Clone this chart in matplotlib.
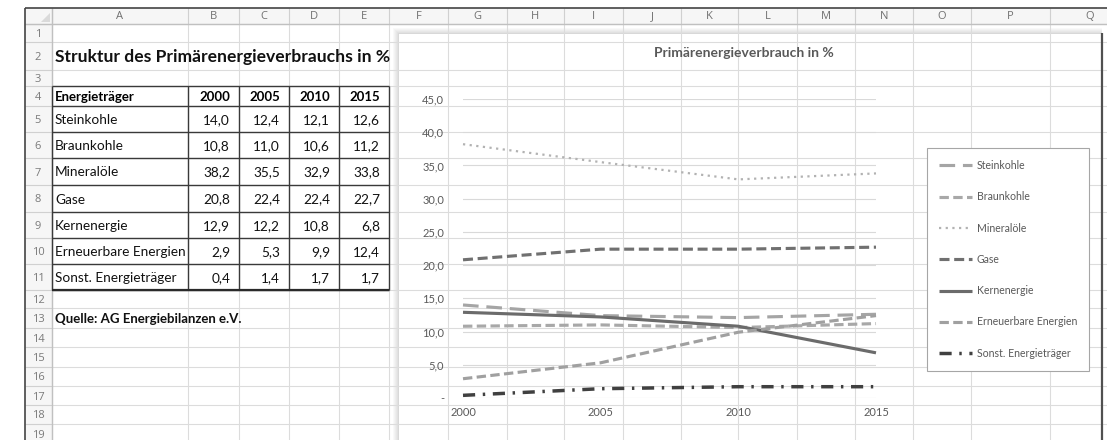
import matplotlib
matplotlib.use("Agg")
import matplotlib.pyplot as plt
from matplotlib.patches import Rectangle, Polygon

plt.rcParams['font.family'] = ['Lato', 'DejaVu Sans']

# Primärenergieverbrauch nach Energieträgern (Anteile in %)
years = [2000, 2005, 2010, 2015]
carriers = ['Steinkohle', 'Braunkohle', 'Mineralöle', 'Gase', 'Kernenergie',
            'Erneuerbare Energien', 'Sonst. Energieträger']
steinkohle = [14.0, 12.4, 12.1, 12.6]
braunkohle = [10.8, 11.0, 10.6, 11.2]
mineraloele = [38.2, 35.5, 32.9, 33.8]
gase = [20.8, 22.4, 22.4, 22.7]
kernenergie = [12.9, 12.2, 10.8, 6.8]
erneuerbare = [2.9, 5.3, 9.9, 12.4]
sonstige = [0.4, 1.4, 1.7, 1.7]
shares = [steinkohle, braunkohle, mineraloele, gase, kernenergie, erneuerbare, sonstige]

y_ticks = [0, 5, 10, 15, 20, 25, 30, 35, 40, 45]
col_letters = list('ABCDEFGHIJKLMNOPQ')

# sheet geometry in pixels
col_edges = [52, 188, 239, 289, 339, 389, 448, 507, 564, 623, 681, 738, 797, 855, 913, 971, 1050, 1130]
row_edges = [24, 42, 70, 86, 106, 132, 158, 185, 212, 238, 264, 290, 308, 328, 347, 367, 386, 405, 424, 443]

line_styles = [
    dict(color='#a5a5a5', lw=2.25, ls=(0, (5, 2.5))),
    dict(color='#a8a8a8', lw=2.25, ls=(0, (3, 1.4))),
    dict(color='#b2b2b2', lw=1.6, ls=(0, (1, 2))),
    dict(color='#707070', lw=2.25, ls=(0, (3.2, 1.5))),
    dict(color='#6b6b6b', lw=2.25, ls='-'),
    dict(color='#a0a0a0', lw=2.25, ls=(0, (3, 1.4))),
    dict(color='#404040', lw=2.5, ls=(0, (3.5, 2.2, 0.7, 2.2))),
]


def de(v):
    return f"{v:.1f}".replace('.', ',')


fig = plt.figure(figsize=(11.07, 4.40), dpi=100)
sheet = fig.add_axes([0, 0, 1, 1])
sheet.set_xlim(0, 1107)
sheet.set_ylim(440, 0)
sheet.axis('off')

# headers and cell grid
sheet.add_patch(Rectangle((25, 8), 1107 - 25, 16, fc='#f6f6f6', ec='none'))
sheet.add_patch(Rectangle((25, 24), 27, 420, fc='#f6f6f6', ec='none'))
sheet.hlines(row_edges, 52, 1107, color='#dcdcdc', lw=0.8)
sheet.vlines(col_edges, 24, 440, color='#dcdcdc', lw=0.8)
sheet.vlines(col_edges, 8, 24, color='#d0d0d0', lw=0.8)
sheet.hlines(row_edges, 25, 52, color='#d0d0d0', lw=0.8)
sheet.hlines(24, 25, 1107, color='#c0c0c0', lw=1)
sheet.vlines(52, 8, 440, color='#c0c0c0', lw=1)
sheet.hlines(8, 25, 1107, color='#444444', lw=1.2)
sheet.vlines(25, 8, 440, color='#444444', lw=1.2)
sheet.add_patch(Polygon([(41, 22), (50, 22), (50, 13)], fc='#dadada', ec='none'))

for i, letter in enumerate(col_letters):
    cx = (col_edges[i] + col_edges[i + 1]) / 2 if letter != 'Q' else 1090
    sheet.text(cx, 16.5, letter, ha='center', va='center', fontsize=8,
               color='#707070', family='Open Sans')
for i in range(len(row_edges) - 1):
    cy = (row_edges[i] + row_edges[i + 1]) / 2 + 1.5
    sheet.text(38, cy, str(i + 1), ha='center', va='center', fontsize=8,
               color='#7a7a7a', family='Open Sans')

# table
sheet.text(55, 57, 'Struktur des Primärenergieverbrauchs in %', fontsize=12.6,
           weight='bold', va='center', color='#111111')
head_y = (row_edges[3] + row_edges[4]) / 2 + 1
sheet.text(55, head_y, 'Energieträger', fontsize=9.5, weight='bold', va='center')
for j, yr in enumerate(years):
    sheet.text(col_edges[j + 2] - 9, head_y, str(yr), fontsize=9.5, weight='bold',
               va='center', ha='right')
for r, (name, vals) in enumerate(zip(carriers, shares)):
    cy = (row_edges[4 + r] + row_edges[5 + r]) / 2 + 1
    sheet.text(55, cy, name, fontsize=9.8, va='center', color='#111111')
    for j, v in enumerate(vals):
        sheet.text(col_edges[j + 2] - 9, cy, de(v), fontsize=9.8, va='center',
                   ha='right', color='#111111')
sheet.hlines(row_edges[3:12], 52, 389, color='#3a3a3a', lw=1)
sheet.vlines(col_edges[0:6], 86, 290, color='#3a3a3a', lw=1)
sheet.hlines(290, 52, 389, color='#2a2a2a', lw=1.6)
sheet.text(55, (row_edges[12] + row_edges[13]) / 2 + 1, 'Quelle: AG Energiebilanzen e.V.',
           fontsize=9.5, weight='bold', va='center', color='#111111')

# chart object with soft shadow
for k in range(5, 0, -1):
    sheet.add_patch(Rectangle((398 - k, 33 - k), 704 + k, 420, fc='black',
                              alpha=0.025, ec='none'))
sheet.add_patch(Rectangle((398, 33), 704, 420, fc='white', ec='#d4d4d4', lw=0.6))
sheet.vlines(1102, 33, 440, color='#505050', lw=1.6)
sheet.text(744, 53, 'Primärenergieverbrauch in %', ha='center', va='center',
           fontsize=10, weight='bold', color='#595959')

ax = fig.add_axes([463 / 1107, (440 - 398) / 440, (876 - 463) / 1107, (398 - 99) / 440])
ax.set_facecolor('none')
for name, vals, st in zip(carriers, shares, line_styles):
    ax.plot(years, vals, label=name, color=st['color'], lw=st['lw'], linestyle=st['ls'],
            dash_capstyle='butt', solid_capstyle='butt', clip_on=False)
ax.set_xlim(2000, 2015)
ax.set_ylim(0, 45)
ax.set_xticks(years)
ax.set_yticks(y_ticks)
ax.set_yticklabels(['-' if t == 0 else de(t) for t in y_ticks])
ax.grid(axis='y', color='#d9d9d9', lw=0.8)
ax.set_axisbelow(True)
for s in ax.spines.values():
    s.set_visible(False)
ax.tick_params(axis='both', length=0, labelsize=8, colors='#595959')
ax.tick_params(axis='y', pad=13.5)
ax.tick_params(axis='x', pad=6.5)

leg = ax.legend(loc='upper left', bbox_to_anchor=(927 / 1107, 1 - 148 / 440),
                bbox_transform=fig.transFigure, borderaxespad=0, fancybox=False,
                edgecolor='#a6a6a6', framealpha=1, fontsize=7.6, labelcolor='#595959',
                handlelength=3.1, handletextpad=0.45, labelspacing=1.92, borderpad=1.15)
leg.get_frame().set_linewidth(0.8)

fig.savefig('out.png', dpi=100)
